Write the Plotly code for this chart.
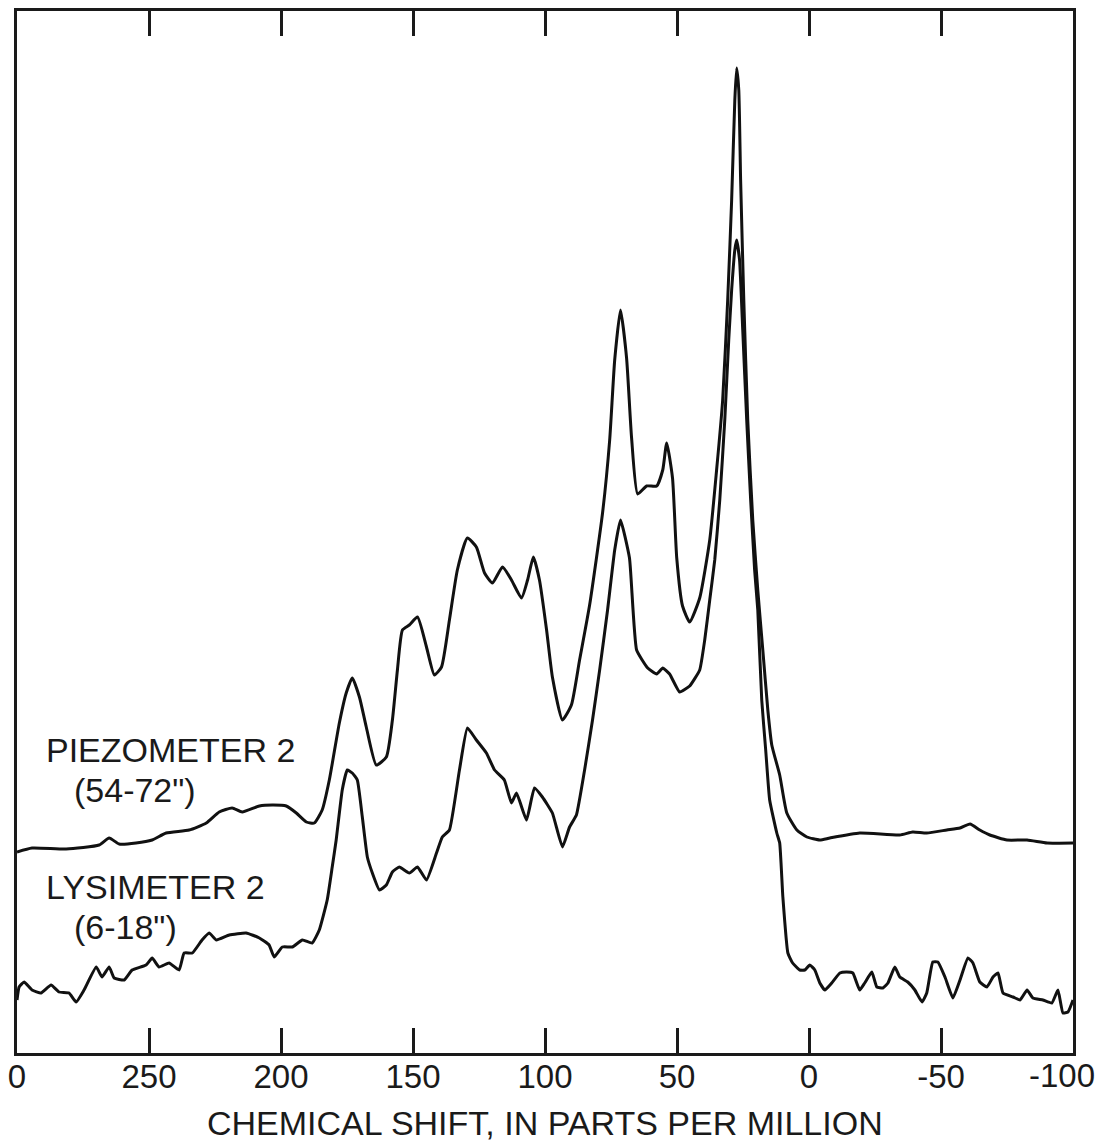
import plotly.graph_objects as go

# Chemical shift (ppm) and relative intensity (arbitrary units)
piezo_ppm = [300.0, 294.3, 281.4, 268.9, 265.1, 261.3, 254.9, 248.8, 243.5, 234.8,
             228.3, 223.4, 218.5, 214.7, 208.2, 203.3, 198.0, 194.2, 190.4, 187.4,
             184.4, 181.7, 177.9, 175.3, 173.0, 170.3, 167.7, 163.9, 160.1, 157.8,
             155.9, 154.0, 151.4, 148.3, 144.9, 141.9, 139.2, 136.2, 133.2, 129.4,
             126.0, 122.9, 119.9, 116.1, 112.7, 108.9, 106.6, 104.4, 102.1, 99.4,
             97.2, 93.4, 90.0, 86.9, 83.1, 78.2, 75.5, 73.6, 71.4, 69.1,
             67.2, 64.9, 61.5, 57.7, 55.4, 53.9, 51.7, 50.1, 47.9, 45.2,
             41.4, 37.6, 35.0, 32.7, 30.8, 29.3, 28.1, 27.4, 26.6, 25.9,
             24.7, 23.2, 21.3, 19.4, 17.5, 15.6, 14.1, 11.1, 8.4, 4.6,
             0.8, -4.1, -7.9, -19.2, -34.4, -39.3, -44.6, -52.2, -57.2, -61.0,
             -64.7, -68.5, -75.0, -82.6, -90.2, -100.0]
piezo_int = [20.1, 20.5, 20.4, 20.8, 21.5, 20.9, 21.0, 21.3, 22.0, 22.3,
             23.0, 24.1, 24.5, 24.1, 24.7, 24.8, 24.7, 24.0, 23.1, 23.0,
             24.3, 27.3, 33.0, 36.0, 37.5, 35.6, 32.6, 28.8, 29.6, 33.3,
             38.3, 42.3, 42.8, 43.6, 40.6, 37.8, 38.6, 43.3, 48.3, 51.5,
             50.6, 48.0, 47.0, 48.6, 47.3, 45.5, 47.3, 49.6, 47.3, 42.3,
             37.6, 33.3, 34.8, 39.3, 44.8, 54.0, 61.3, 69.3, 74.3, 69.5,
             61.5, 55.9, 56.7, 56.7, 58.3, 61.0, 57.5, 49.5, 44.7, 43.1,
             45.5, 51.3, 58.3, 65.3, 75.3, 85.3, 95.3, 98.5, 96.3, 87.3,
             75.3, 63.3, 53.3, 46.3, 40.3, 34.3, 30.8, 27.8, 24.0, 22.3,
             21.6, 21.3, 21.5, 22.0, 21.8, 22.1, 22.0, 22.3, 22.5, 22.9,
             22.3, 21.8, 21.3, 21.3, 21.0, 21.0]

lysi_ppm = [300.0, 299.2, 297.3, 294.3, 290.9, 287.1, 284.1, 280.3, 277.6, 274.6,
            270.0, 267.8, 265.1, 263.2, 259.4, 256.4, 251.1, 248.8, 246.2, 242.4,
            238.6, 236.7, 233.6, 229.9, 227.2, 224.5, 219.6, 213.2, 208.2, 204.5,
            202.6, 199.5, 195.7, 191.9, 188.2, 185.5, 182.5, 180.6, 179.1, 176.8,
            174.9, 173.0, 171.1, 169.2, 167.3, 165.4, 162.7, 160.1, 157.8, 155.2,
            151.4, 148.3, 144.9, 141.1, 138.9, 136.2, 132.4, 129.4, 126.0, 122.2,
            119.1, 115.4, 112.7, 110.8, 107.0, 104.0, 101.0, 97.2, 93.4, 90.7,
            88.1, 85.0, 82.0, 79.3, 76.3, 73.6, 71.4, 68.0, 65.3, 61.1,
            57.7, 55.4, 52.8, 49.0, 45.2, 41.4, 39.5, 37.6, 35.7, 33.8,
            31.9, 30.4, 29.3, 28.1, 27.4, 26.3, 25.1, 23.6, 22.1, 20.6,
            19.4, 17.9, 16.4, 14.9, 12.2, 11.1, 9.9, 8.0, 6.2, 3.5,
            1.6, -0.3, -2.2, -4.1, -6.0, -8.6, -11.7, -14.3, -16.6, -19.2,
            -21.1, -23.8, -25.7, -28.0, -29.9, -32.5, -34.4, -37.4, -40.1, -42.8,
            -44.6, -46.9, -48.8, -51.5, -54.5, -57.2, -60.2, -62.1, -64.7, -67.4,
            -69.7, -71.6, -73.5, -77.3, -79.9, -82.6, -84.8, -88.6, -92.0, -94.3,
            -96.2, -98.1, -100.0]
lysi_int = [5.3, 6.6, 7.1, 6.3, 6.0, 6.8, 6.1, 6.0, 5.1, 6.3,
            8.6, 7.6, 8.6, 7.5, 7.3, 8.3, 8.8, 9.5, 8.6, 9.0,
            8.3, 10.0, 10.0, 11.3, 12.0, 11.3, 11.8, 12.0, 11.5, 10.8,
            9.6, 10.6, 10.6, 11.3, 11.0, 12.3, 15.3, 18.6, 21.3, 26.3,
            28.3, 28.0, 27.3, 23.6, 19.6, 18.0, 16.3, 16.8, 18.1, 18.6,
            18.0, 18.6, 17.3, 20.0, 21.6, 22.3, 28.3, 32.5, 31.3, 30.0,
            28.3, 27.3, 25.0, 26.0, 23.3, 26.5, 25.6, 24.0, 20.6, 22.6,
            23.8, 28.3, 33.3, 38.3, 44.3, 50.3, 53.3, 49.5, 40.3, 38.5,
            37.9, 38.5, 37.9, 36.1, 36.7, 38.3, 41.3, 45.3, 49.3, 55.3,
            63.3, 71.3, 76.3, 80.3, 81.3, 79.3, 72.3, 63.3, 55.3, 48.3,
            44.3, 35.3, 30.3, 25.3, 22.0, 21.0, 15.6, 10.0, 9.0, 8.3,
            8.3, 8.8, 8.3, 7.0, 6.3, 7.0, 8.0, 8.1, 8.0, 6.3,
            7.0, 8.1, 6.6, 6.5, 7.0, 8.6, 7.6, 7.1, 6.3, 5.1,
            6.0, 9.1, 9.1, 7.6, 5.5, 7.3, 9.5, 9.0, 7.1, 6.6,
            7.6, 8.0, 6.0, 5.6, 5.3, 6.3, 5.5, 5.3, 5.0, 6.3,
            4.0, 4.1, 5.3]

tick_vals = [300, 250, 200, 150, 100, 50, 0, -50, -100]
tick_labels = ["0", "250", "200", "150", "100", "50", "0", "-50", ""]
last_tick_label = "-100"
x_title = "CHEMICAL SHIFT, IN PARTS PER MILLION"

FONT = "Liberation Sans, Arial, sans-serif"
INK = "#1a1a1a"

fig = go.Figure()
fig.add_trace(go.Scatter(x=piezo_ppm, y=piezo_int, mode="lines",
                         line=dict(color="#111111", width=3, shape="spline", smoothing=0.5),
                         name="PIEZOMETER 2"))
fig.add_trace(go.Scatter(x=lysi_ppm, y=lysi_int, mode="lines",
                         line=dict(color="#111111", width=3, shape="spline", smoothing=0.4),
                         name="LYSIMETER 2"))

ann_font = dict(family=FONT, size=34, color=INK)
for txt, xv, yv in [("PIEZOMETER 2", 289.8, 30.3), ('(54-72")', 279.1, 26.3),
                    ("LYSIMETER 2", 289.8, 16.6), ('(6-18")', 279.1, 12.6)]:
    fig.add_annotation(x=xv, y=yv, xref="x", yref="y", text=txt, showarrow=False,
                       xanchor="left", yanchor="middle", font=ann_font)

# last tick label, kept inside the page like in the original figure
fig.add_annotation(x=tick_vals[-1], y=-0.022, xref="x", yref="paper",
                   text=last_tick_label, showarrow=False, xanchor="center",
                   yanchor="middle", xshift=-11,
                   font=dict(family=FONT, size=33, color=INK))
# axis title
fig.add_annotation(x=0.5, y=-0.0672, xref="paper", yref="paper", text=x_title,
                   showarrow=False, xanchor="center", yanchor="middle",
                   font=dict(family=FONT, size=34, color=INK))

fig.update_layout(
    width=1090, height=1138,
    margin=dict(l=9, r=25, t=3, b=93, autoexpand=False),
    paper_bgcolor="white", plot_bgcolor="white",
    showlegend=False,
    font=dict(family=FONT, color=INK),
    xaxis=dict(
        range=[300, -100], showgrid=False, zeroline=False, automargin=False,
        showline=True, mirror="ticks", linecolor=INK, linewidth=2.5,
        ticks="inside", ticklen=25, tickwidth=2.5, tickcolor=INK,
        tickvals=tick_vals, ticktext=tick_labels,
        tickfont=dict(family=FONT, size=33, color=INK),
        ticklabeloverflow="allow",
    ),
    yaxis=dict(
        range=[0, 104.2], showgrid=False, zeroline=False, automargin=False,
        showline=True, mirror=True, linecolor=INK, linewidth=2.5,
        ticks="", showticklabels=False,
    ),
)
try:
    fig.update_xaxes(ticklabelstandoff=-7)
except Exception:
    pass

fig.write_html("out.html")
